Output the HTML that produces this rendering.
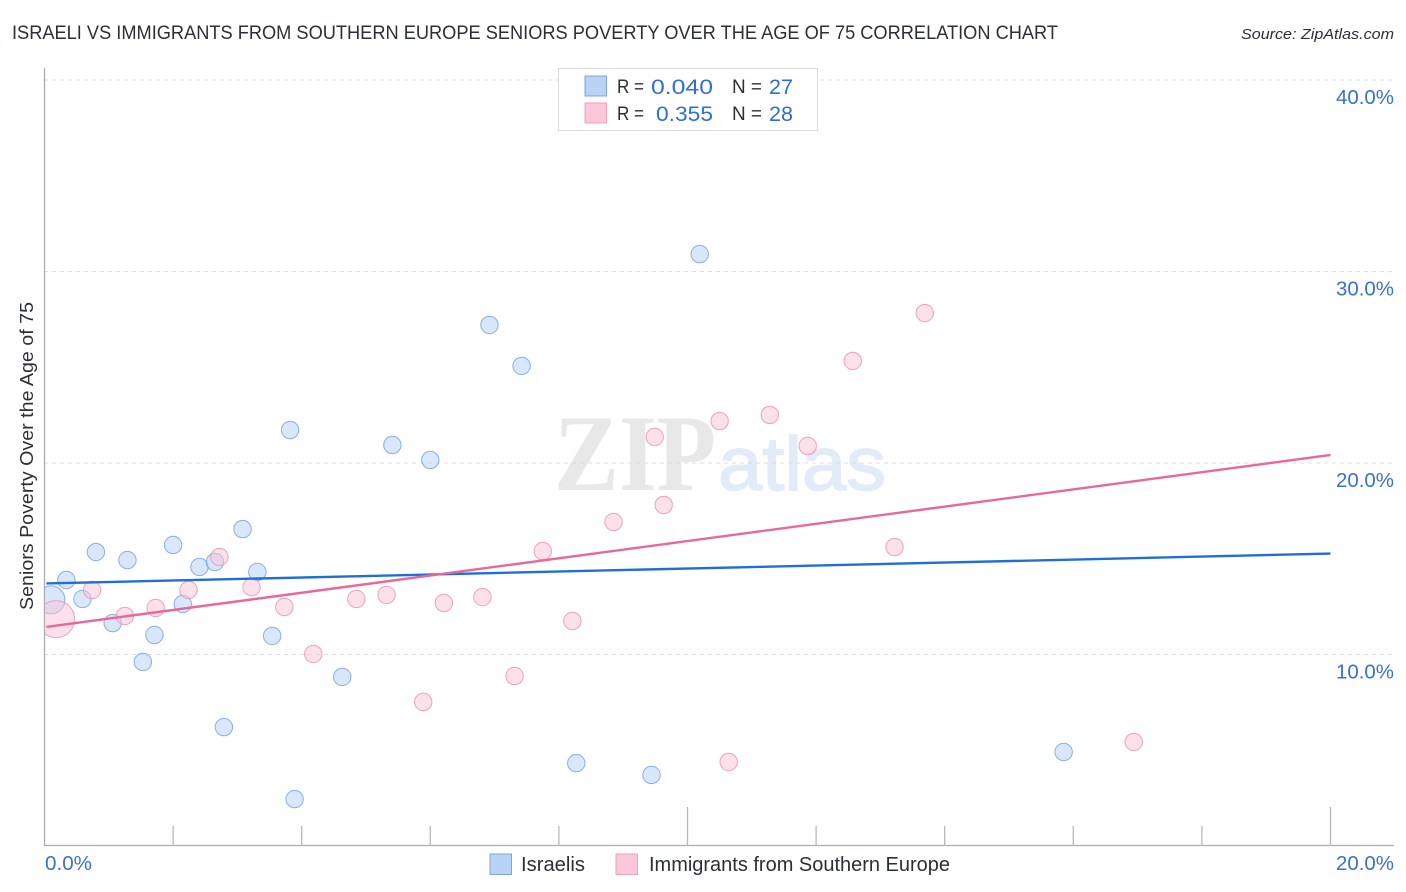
<!DOCTYPE html>
<html lang="en">
<head>
<meta charset="utf-8">
<title>Israeli vs Immigrants from Southern Europe Seniors Poverty Correlation Chart</title>
<style>
html,body{margin:0;padding:0;background:#fff;width:1406px;height:892px;overflow:hidden}
svg{display:block;font-family:"Liberation Sans",sans-serif}
</style>
</head>
<body>
<svg id="chart" width="1406" height="892" viewBox="0 0 1406 892">
  <defs>
    <clipPath id="plot-clip"><rect x="45" y="60" width="1349" height="786"/></clipPath>
  </defs>
  <text x="12" y="39" font-size="19" fill="#2b2f36" textLength="1046" lengthAdjust="spacingAndGlyphs">ISRAELI VS IMMIGRANTS FROM SOUTHERN EUROPE SENIORS POVERTY OVER THE AGE OF 75 CORRELATION CHART</text>
  <text x="1394" y="39" font-size="15" font-style="italic" fill="#2b2f36" text-anchor="end" textLength="153" lengthAdjust="spacingAndGlyphs">Source: ZipAtlas.com</text>

  <g>
    <text x="554" y="490" font-family="'Liberation Serif',serif" font-weight="bold" font-size="109" fill="#e8e8e8" textLength="162" lengthAdjust="spacingAndGlyphs">ZIP</text>
    <text x="718" y="490" font-size="76" fill="#e2ebf8" stroke="#e2ebf8" stroke-width="1.5" textLength="168" lengthAdjust="spacingAndGlyphs">atlas</text>
  </g>

  <g id="grid"></g>
  <g id="axes"></g>
  <g id="blue-points" clip-path="url(#plot-clip)"></g>
  <g id="pink-points" clip-path="url(#plot-clip)"></g>
  <g id="trends"></g>

  <text transform="translate(33,456) rotate(-90)" font-size="18.5" fill="#2b2f36" text-anchor="middle" textLength="308" lengthAdjust="spacingAndGlyphs">Seniors Poverty Over the Age of 75</text>

  <g>
    <rect x="558.5" y="68.5" width="259" height="62" fill="#fff" stroke="#dcdcdc"/>
    <rect x="585" y="76" width="21.5" height="20" fill="#b9d3f7" stroke="#7fa6da"/>
    <rect x="585" y="103" width="21.5" height="20" fill="#fcc7d8" stroke="#eda3bb"/>
    <g font-size="19" fill="#2b2f36">
      <text x="617" y="93" textLength="27" lengthAdjust="spacingAndGlyphs">R =</text>
      <text x="732" y="93" textLength="30" lengthAdjust="spacingAndGlyphs">N =</text>
      <text x="617" y="120" textLength="27" lengthAdjust="spacingAndGlyphs">R =</text>
      <text x="732" y="120" textLength="30" lengthAdjust="spacingAndGlyphs">N =</text>
    </g>
    <g font-size="21" fill="#2f6fd6">
      <text x="713" y="94" text-anchor="end" textLength="62" lengthAdjust="spacingAndGlyphs">0.040</text>
      <text x="793" y="94" text-anchor="end" textLength="24" lengthAdjust="spacingAndGlyphs">27</text>
      <text x="713" y="121" text-anchor="end" textLength="57" lengthAdjust="spacingAndGlyphs">0.355</text>
      <text x="793" y="121" text-anchor="end" textLength="24" lengthAdjust="spacingAndGlyphs">28</text>
    </g>
  </g>

  <g>
    <rect x="490" y="854" width="21.5" height="20.5" fill="#b9d3f7" stroke="#7fa6da"/>
    <text x="521" y="871" font-size="20" fill="#2b2f36" textLength="64" lengthAdjust="spacingAndGlyphs">Israelis</text>
    <rect x="616" y="854" width="21.5" height="20.5" fill="#fcc7d8" stroke="#eda3bb"/>
    <text x="649" y="871" font-size="20" fill="#2b2f36" textLength="301" lengthAdjust="spacingAndGlyphs">Immigrants from Southern Europe</text>
  </g>
</svg>
<script>
const yTickValues = [10, 20, 30, 40];
const yTickLabels = ["10.0%", "20.0%", "30.0%", "40.0%"];
const xTickValues = [0, 2, 4, 6, 8, 10, 12, 14, 16, 18, 20];
const xEndLabels = ["0.0%", "20.0%"];

const israelisX = [0.10, 0.34, 0.59, 0.80, 1.06, 1.29, 1.53, 1.71, 2.00, 2.15, 2.41, 2.65, 2.79, 3.08, 3.31, 3.54, 3.82, 3.89, 4.63, 5.41, 6.00, 6.92, 7.42, 8.27, 9.44, 10.19, 15.85];
const israelisY = [12.85, 13.89, 12.90, 15.35, 11.64, 14.93, 9.61, 11.02, 15.72, 12.64, 14.57, 14.83, 6.21, 16.55, 14.31, 10.97, 21.72, 2.45, 8.83, 20.94, 20.16, 27.21, 25.07, 4.33, 3.71, 30.91, 4.91];

const immigrantsX = [0.18, 0.74, 1.25, 1.73, 2.24, 2.72, 3.22, 3.73, 4.18, 4.85, 5.32, 5.89, 6.21, 6.81, 7.31, 7.75, 8.21, 8.85, 9.49, 9.63, 10.50, 10.64, 11.28, 11.87, 12.57, 13.22, 13.69, 16.94];
const immigrantsY = [11.85, 13.37, 12.01, 12.43, 13.37, 15.09, 13.52, 12.48, 10.03, 12.90, 13.11, 7.52, 12.69, 13.00, 8.88, 15.40, 11.75, 16.92, 21.36, 17.81, 22.19, 4.39, 22.51, 20.89, 25.33, 15.61, 27.83, 5.43];

const trendX = [0.03, 20];
const israelisTrend = [13.71, 15.27];
const immigrantsTrend = [11.44, 20.42];

const NS = "http://www.w3.org/2000/svg";
function xScale(v) { return 44.5 + v * 64.3; }
function yScale(v) { return 846 - v * 19.15; }
function make(parent, tag, attrs) {
  const el = document.createElementNS(NS, tag);
  for (const k in attrs) el.setAttribute(k, attrs[k]);
  parent.appendChild(el);
  return el;
}

const grid = document.getElementById("grid");
yTickValues.forEach(function (v, i) {
  const line = make(grid, "line", { x1: 44, x2: 1394, y1: yScale(v), y2: yScale(v), stroke: "#dddddd", "stroke-width": 1, "stroke-dasharray": "4 4" });
  
  
  const label = make(grid, "text", { x: 1394, y: yScale(v) + 24, "font-size": 20, fill: "#3a70d3", "text-anchor": "end", textLength: 58, lengthAdjust: "spacingAndGlyphs" });
  label.textContent = yTickLabels[i];
  
  
});

const axes = document.getElementById("axes");
const yAxis = make(axes, "line", { x1: 44.5, x2: 44.5, y1: 68, y2: 846, stroke: "#adadad", "stroke-width": 1.3 });


const xAxis = make(axes, "line", { x1: 44, x2: 1394, y1: 845.5, y2: 845.5, stroke: "#adadad", "stroke-width": 1.3 });


xTickValues.forEach(function (v) {
  if (v === 0) return;
  const top = v % 10 === 0 ? 807 : 826;
  const tick = make(axes, "line", { x1: xScale(v), x2: xScale(v), y1: top, y2: 846, stroke: "#b8b8b8", "stroke-width": 1.3 });
  
  
});
const xLabelStart = make(axes, "text", { x: 45, y: 870, "font-size": 20, fill: "#3a70d3", textLength: 47, lengthAdjust: "spacingAndGlyphs" });
xLabelStart.textContent = xEndLabels[0];


const xLabelEnd = make(axes, "text", { x: 1394, y: 870, "font-size": 20, fill: "#3a70d3", "text-anchor": "end", textLength: 58, lengthAdjust: "spacingAndGlyphs" });
xLabelEnd.textContent = xEndLabels[1];



function drawPoints(groupId, xs, ys, fill, stroke, bigRadius, name) {
  const g = document.getElementById(groupId);
  xs.forEach(function (xv, i) {
    const c = make(g, "circle", { cx: xScale(xv), cy: yScale(ys[i]), r: i === 0 ? bigRadius : 8.7, fill: fill, "fill-opacity": 0.5, stroke: stroke, "stroke-opacity": 0.8, "stroke-width": 1 });
    
    
  });
}
drawPoints("blue-points", israelisX, israelisY, "#b4cff5", "#6f9fe0", 14, "israelis-point");
drawPoints("pink-points", immigrantsX, immigrantsY, "#f9c3d5", "#ea8fae", 18.5, "immigrants-point");

const trends = document.getElementById("trends");
const blueTrend = make(trends, "line", { x1: xScale(trendX[0]), x2: xScale(trendX[1]), y1: yScale(israelisTrend[0]), y2: yScale(israelisTrend[1]), stroke: "#1f6fd6", "stroke-width": 2.4 });


const pinkTrend = make(trends, "line", { x1: xScale(trendX[0]), x2: xScale(trendX[1]), y1: yScale(immigrantsTrend[0]), y2: yScale(immigrantsTrend[1]), stroke: "#e8689a", "stroke-width": 2.4 });


</script>
</body>
</html>
